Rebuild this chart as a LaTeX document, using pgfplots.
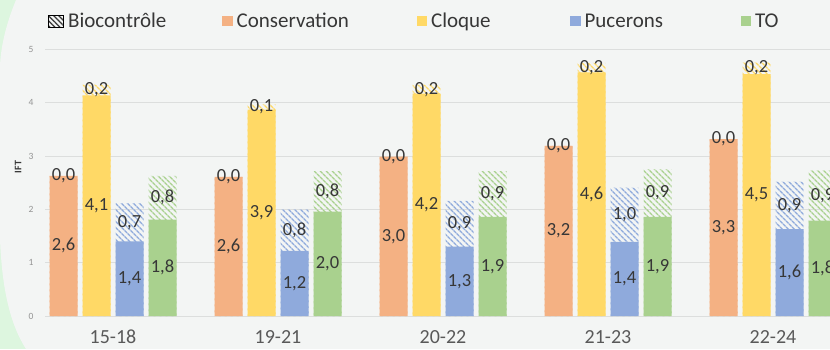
\documentclass[border=0pt]{standalone}
\usepackage{fontspec}
\setmainfont{Carlito}
\usepackage{pgfplots}
\pgfplotsset{compat=1.18}
\usepackage{pgfplotstable}
\usetikzlibrary{patterns.meta}

\definecolor{bg}{RGB}{243,245,244}
\definecolor{gr}{RGB}{221,246,223}
\definecolor{cons}{RGB}{244,177,131}
\definecolor{clo}{RGB}{255,217,102}
\definecolor{puc}{RGB}{143,170,220}
\definecolor{tov}{RGB}{169,209,142}
\definecolor{txt}{RGB}{55,55,55}
\definecolor{gridc}{RGB}{220,222,221}

% x = position of group centre, then base value and biocontrol part per series
\pgfplotstableread{
g   cons consb clo  clob puc  pucb to   tob
113 2.63 0.00  4.14 0.20 1.40 0.72 1.81 0.82
278 2.61 0.00  3.87 0.10 1.22 0.78 1.96 0.76
443 2.99 0.00  4.17 0.17 1.30 0.86 1.86 0.86
608 3.19 0.00  4.57 0.18 1.39 1.02 1.86 0.89
773 3.32 0.00  4.54 0.22 1.63 0.89 1.79 0.94
}\data

\pgfplotsset{
  basebar/.style={ybar, bar shift=0pt, bar width=28, draw=none},
  hatchbar/.style={ybar, bar shift=0pt, bar width=28, draw=none, forget plot,
    pattern={Lines[angle=-45,distance=4pt,line width=1.4pt]}, pattern color=#1},
  lab/.style={draw=none, mark=none, forget plot, point meta=explicit,
    nodes near coords={\pgfmathprintnumber[fixed,fixed zerofill,precision=1,use comma,assume math mode=true]{\pgfplotspointmeta}},
    every node near coord/.append style={anchor=center, inner sep=0pt,
      font=\fontsize{18.5}{20}\selectfont, text=txt}},
}

\begin{document}
\begin{tikzpicture}
\useasboundingbox (0,0) rectangle (830pt,349pt);
\clip (0,0) rectangle (830pt,349pt);
\fill[gr] (0,0) rectangle (830pt,349pt);
\fill[bg] (16pt,349pt) .. controls (6pt,325pt) and (0pt,300pt) .. (0pt,280pt)
  -- (0pt,110pt) .. controls (2pt,60pt) and (10pt,25pt) .. (26pt,0pt)
  -- (830pt,0pt) -- (830pt,349pt) -- cycle;
\begin{axis}[
  at={(45pt,33pt)}, anchor=south west,
  x=1pt, y=53.3pt, xmin=45, xmax=860, ymin=0, ymax=5,
  axis lines=left, axis line style={draw=none},
  tick style={draw=none},
  ymajorgrids, grid style={gridc, line width=0.9pt},
  ytick={0,1,2,3,4,5}, yticklabels={0,1,2,3,4,5},
  yticklabel style={font=\fontsize{9.5}{11}\selectfont, text=gray!85, xshift=-6pt},
  xtick={113,278,443,608,773},
  xticklabels={15-18,19-21,20-22,21-23,22-24},
  xticklabel style={font=\fontsize{20}{22}\selectfont, text=black!65, anchor=base, yshift=-25.5pt},
  ylabel={IFT},
  every axis y label/.style={at={(axis description cs:-0.0331,0.559)}, rotate=90, anchor=center,
    font=\bfseries\fontsize{10}{12}\selectfont, text=txt},
  legend columns=-1,
  legend style={draw=none, fill=none, at={(axis description cs:0.0033,1.106)}, anchor=west,
    font=\fontsize{21}{24}\selectfont, text=txt, inner sep=0pt,
    nodes={inner sep=0pt},
    /tikz/every odd column/.style={column sep=4pt},
    /tikz/every even column/.style={column sep=0pt}},
]
\addlegendimage{legend image code/.code={\fill[pattern={Lines[angle=-45,distance=3.6pt,line width=1.2pt]}, pattern color=txt] (0pt,-6pt) rectangle (15pt,6pt);}}
\addlegendentry{\makebox[154pt][l]{Biocontrôle}}

% hatched (total) bars first
\addplot[hatchbar=cons] table[x expr=\thisrow{g}-49.5, y expr=\thisrow{cons}+\thisrow{consb}] {\data};
\addplot[hatchbar=clo]  table[x expr=\thisrow{g}-16.5, y expr=\thisrow{clo}+\thisrow{clob}] {\data};
\addplot[hatchbar=puc]  table[x expr=\thisrow{g}+16.5, y expr=\thisrow{puc}+\thisrow{pucb}] {\data};
\addplot[hatchbar=tov]  table[x expr=\thisrow{g}+49.5, y expr=\thisrow{to}+\thisrow{tob}] {\data};

% base bars
\addplot[basebar, fill=cons, legend image code/.code={\fill[cons] (0pt,-5pt) rectangle (10.5pt,5pt);}]
  table[x expr=\thisrow{g}-49.5, y=cons] {\data};
\addlegendentry{\makebox[180pt][l]{Conservation}}
\addplot[basebar, fill=clo, legend image code/.code={\fill[clo] (0pt,-5pt) rectangle (10.5pt,5pt);}]
  table[x expr=\thisrow{g}-16.5, y=clo] {\data};
\addlegendentry{\makebox[139pt][l]{Cloque}}
\addplot[basebar, fill=puc, legend image code/.code={\fill[puc] (0pt,-5pt) rectangle (10.5pt,5pt);}]
  table[x expr=\thisrow{g}+16.5, y=puc] {\data};
\addlegendentry{\makebox[156pt][l]{Pucerons}}
\addplot[basebar, fill=tov, legend image code/.code={\fill[tov] (0pt,-5pt) rectangle (10.5pt,5pt);}]
  table[x expr=\thisrow{g}+49.5, y=to] {\data};
\addlegendentry{TO}

% value labels: base part
\addplot[lab] table[x expr=\thisrow{g}-49.5, y expr=\thisrow{cons}/2, meta=cons] {\data};
\addplot[lab] table[x expr=\thisrow{g}-16.5, y expr=\thisrow{clo}/2, meta=clo] {\data};
\addplot[lab] table[x expr=\thisrow{g}+16.5, y expr=\thisrow{puc}/2, meta=puc] {\data};
\addplot[lab] table[x expr=\thisrow{g}+49.5, y expr=\thisrow{to}/2, meta=to] {\data};
% value labels: biocontrol part
\addplot[lab] table[x expr=\thisrow{g}-49.5, y expr=\thisrow{cons}+\thisrow{consb}/2, meta=consb] {\data};
\addplot[lab] table[x expr=\thisrow{g}-16.5, y expr=\thisrow{clo}+\thisrow{clob}/2, meta=clob] {\data};
\addplot[lab] table[x expr=\thisrow{g}+16.5, y expr=\thisrow{puc}+\thisrow{pucb}/2, meta=pucb] {\data};
\addplot[lab] table[x expr=\thisrow{g}+49.5, y expr=\thisrow{to}+\thisrow{tob}/2, meta=tob] {\data};
\end{axis}
\end{tikzpicture}
\end{document}
